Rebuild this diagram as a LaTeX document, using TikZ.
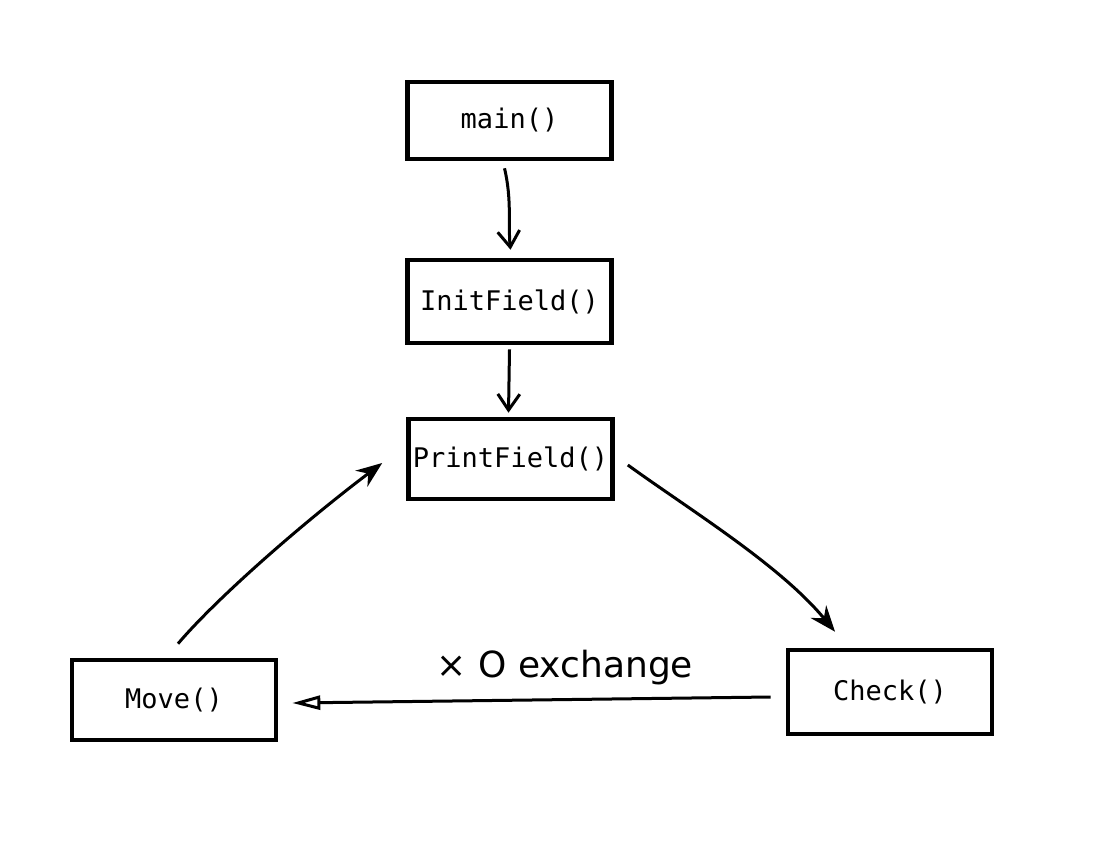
\documentclass[tikz,border=0pt]{standalone}
\usepackage{fontspec}
\usetikzlibrary{arrows.meta,calc}
\newfontfamily\codefont{DejaVu Sans Mono}
\newfontfamily\handfont{DejaVu Sans}

\begin{document}
\begin{tikzpicture}[x=0.5pt,y=-0.5pt,
    funcbox/.style={draw,line width=2.3pt,minimum width=102pt,minimum height=40pt,
      inner sep=0pt,font=\codefont\fontsize{13.5}{15}\selectfont},
    vee/.style={line width=1.5pt,-{Straight Barb[length=8pt,width=11pt,line width=1.5pt]}},
    fill head/.style={line width=1.5pt,-{Stealth[length=13pt,width=10pt]}},
    open head/.style={line width=1.5pt,-{Triangle[open,length=14pt,width=7pt,line width=1.5pt]}}]
  \useasboundingbox (0,0) rectangle (1111,860);
  % function boxes, pixel positions of the sketch
  \node[funcbox,minimum height=38.5pt] (main) at (509.5,120.5) {main()};
  \node[funcbox,minimum height=41.5pt] (InitField) at (509.5,301.5) {InitField()};
  \node[funcbox] (PrintField) at (510.5,459) {PrintField()};
  \node[funcbox] (Move) at (174,700) {Move()};
  \node[funcbox,minimum height=42pt] (Check) at (890,692) {Check()};
  % calls
  \draw[vee] ($(main.south)+(-5,7)$) .. controls (512,200) and (508,225) .. ($(InitField.north)+(1,-8)$);
  \draw[vee] ($(InitField.south)+(0,4)$) -- ($(PrintField.north)+(-2,-4)$);
  \draw[fill head] ($(PrintField.east)+(13,6)$) .. controls (690,510) and (780,565) .. ($(Check.north)+(-55,-16)$);
  \draw[open head] ($(Check.west)+(-15,5)$) -- node[pos=0.43,above=3pt,font=\handfont\fontsize{18}{20}\selectfont] (swap) {× O exchange} ($(Move.east)+(14,3)$);
  \draw[fill head] ($(Move.north)+(4,-14)$) .. controls (215,600) and (300,525) .. ($(PrintField.west)+(-24,4)$);
\end{tikzpicture}
\end{document}
